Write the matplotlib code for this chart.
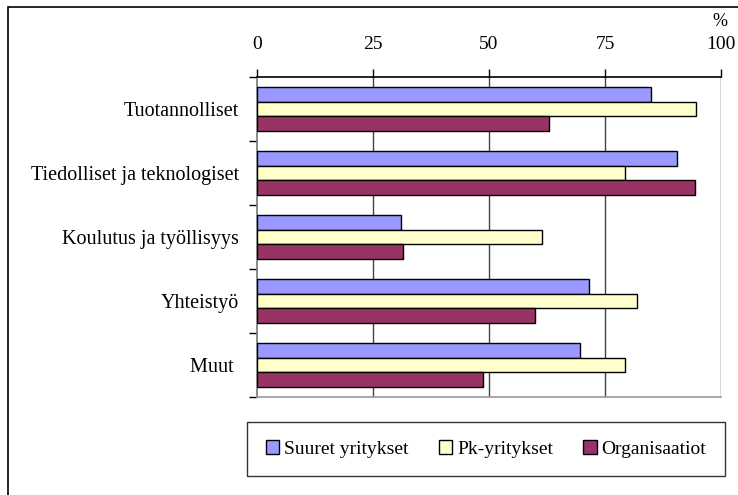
import matplotlib
matplotlib.use("Agg")
from matplotlib import pyplot as plt
from matplotlib.patches import Rectangle
import numpy as np

plt.rcParams['font.family'] = ['Liberation Serif', 'DejaVu Serif']

categories = ["Tuotannolliset", "Tiedolliset ja teknologiset", "Koulutus ja työllisyys",
              "Yhteistyö", "Muut "]
series_names = ["Suuret yritykset", "Pk-yritykset", "Organisaatiot"]
suuret = [85.0, 90.6, 31.1, 71.6, 69.6]
pk = [94.7, 79.3, 61.4, 82.0, 79.3]
organisaatiot = [62.9, 94.5, 31.5, 59.9, 48.7]
xticks = [0, 25, 50, 75, 100]

colors = ['#9999FF', '#FFFFCC', '#993366']

fig = plt.figure(figsize=(7.38, 4.95), dpi=100)
W, H = 738, 495
ax = fig.add_axes([257/W, 1-397/H, (721-257)/W, (397-77)/H])

y = np.arange(len(categories))
h = 0.23
for i, (vals, name) in enumerate(zip([suuret, pk, organisaatiot], series_names)):
    ax.barh(y + (i-1)*h, vals, height=h, color=colors[i], edgecolor='black',
            linewidth=1.0, label=name, zorder=3)

ax.set_xlim(0, 100)
ax.set_ylim(len(categories)-0.5, -0.5)
ax.xaxis.tick_top()
ax.set_xticks(xticks)
ax.set_xticklabels([str(t) for t in xticks], fontsize=14)
ax.tick_params(axis='x', length=6, width=1, pad=11, color='black')
for t in xticks[1:]:
    ax.axvline(t, color='#444444', linewidth=1, zorder=1)

# group boundaries as major ticks, names as minor ticks
ax.set_yticks(np.arange(-0.5, len(categories), 1.0))
ax.set_yticklabels([])
ax.set_yticks(y, minor=True)
ax.set_yticklabels(categories, minor=True, fontsize=14.5)
ax.tick_params(axis='y', which='major', length=6, width=1, color='black')
ax.tick_params(axis='y', which='minor', length=0, pad=13)

ax.spines['right'].set_visible(False)
ax.spines['top'].set_color('black')
ax.spines['top'].set_linewidth(1.2)
ax.spines['left'].set_color('#777777')
ax.spines['bottom'].set_color('#999999')
ax.spines['left'].set_linewidth(1.2)
ax.spines['bottom'].set_linewidth(1.2)

fig.text(720/W, 1-22/H, "%", ha='center', va='center', fontsize=13)

leg = fig.legend(loc='center', bbox_to_anchor=(486/W, 1-449/H), ncol=3, fontsize=14,
                 frameon=True, fancybox=False, edgecolor='black', handlelength=0.7,
                 handleheight=0.7, handletextpad=0.25, columnspacing=1.55,
                 borderpad=0.95, borderaxespad=0)
leg.get_frame().set_linewidth(1.0)

# outer chart frame (only left and top edges fall inside the image)
fig.patches.append(Rectangle((8/W, -0.2), 1.3, 1.2 - 7/H, transform=fig.transFigure,
                             fill=False, edgecolor='black', linewidth=1.2))

fig.savefig("out.png", dpi=100)
